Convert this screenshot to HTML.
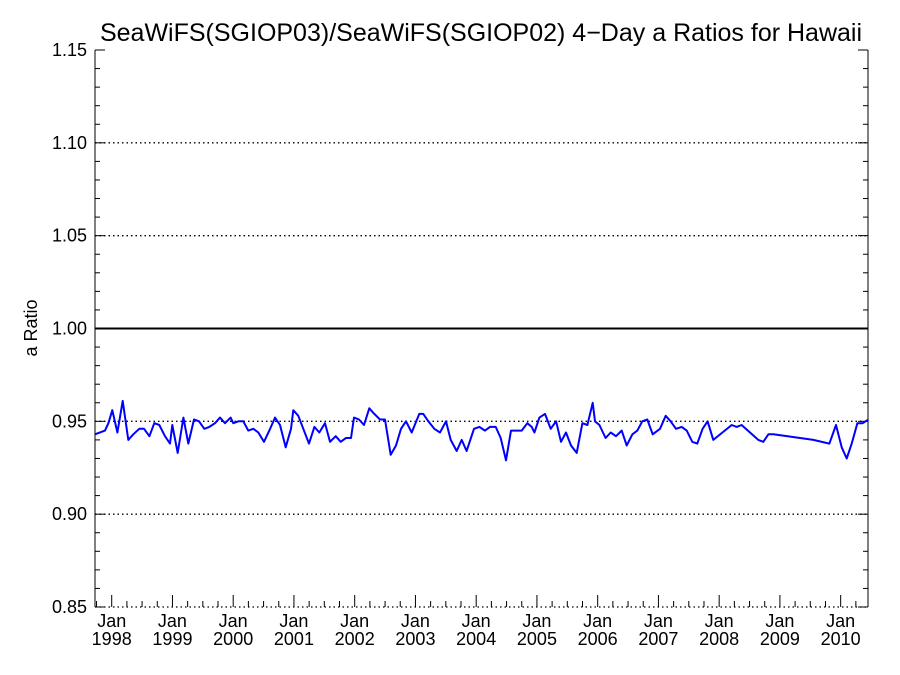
<!DOCTYPE html>
<html><head><meta charset="utf-8"><style>
body{margin:0;background:#fff;}
svg{display:block;font-family:"Liberation Sans",sans-serif;}
</style></head><body>
<svg id="chart" width="900" height="675" viewBox="0 0 900 675">
<text x="481" y="41" font-size="25" text-anchor="middle">SeaWiFS(SGIOP03)/SeaWiFS(SGIOP02) 4−Day a Ratios for Hawaii</text>
<text transform="translate(37,328) rotate(-90)" font-size="18" text-anchor="middle">a Ratio</text>
<g id="grid"></g><g id="axes"></g><g id="series"></g>
</svg>
<script>
const dates=[1997.725,1997.89,1997.945,1998.010,1998.093,1998.181,1998.274,1998.356,1998.455,1998.532,1998.620,1998.702,1998.784,1998.878,1998.960,1998.998,1999.086,1999.180,1999.261,1999.355,1999.437,1999.525,1999.607,1999.700,1999.783,1999.865,1999.958,2000.002,2000.085,2000.167,2000.249,2000.332,2000.414,2000.507,2000.595,2000.688,2000.770,2000.864,2000.952,2000.990,2001.072,2001.154,2001.248,2001.336,2001.418,2001.511,2001.593,2001.687,2001.769,2001.857,2001.939,2001.989,2002.071,2002.153,2002.241,2002.323,2002.417,2002.499,2002.592,2002.680,2002.762,2002.845,2002.938,2003.064,2003.130,2003.212,2003.311,2003.404,2003.503,2003.580,2003.679,2003.761,2003.843,2003.964,2004.052,2004.145,2004.227,2004.321,2004.403,2004.491,2004.573,2004.667,2004.749,2004.842,2004.914,2004.958,2005.040,2005.133,2005.227,2005.315,2005.397,2005.479,2005.561,2005.655,2005.748,2005.830,2005.918,2005.956,2006.028,2006.131,2006.214,2006.302,2006.395,2006.477,2006.571,2006.653,2006.735,2006.817,2006.905,2007.026,2007.119,2007.201,2007.289,2007.383,2007.465,2007.558,2007.640,2007.728,2007.810,2007.904,2008.206,2008.288,2008.370,2008.644,2008.727,2008.810,2008.892,2009.551,2009.814,2009.924,2010.017,2010.100,2010.182,2010.275,2010.363,2010.456];
const ratios=[0.943,0.945,0.949,0.956,0.944,0.961,0.940,0.943,0.946,0.946,0.942,0.949,0.948,0.942,0.938,0.948,0.933,0.952,0.938,0.951,0.950,0.946,0.947,0.949,0.952,0.949,0.952,0.949,0.950,0.950,0.945,0.946,0.944,0.939,0.945,0.952,0.948,0.936,0.946,0.956,0.953,0.946,0.938,0.947,0.944,0.949,0.939,0.942,0.939,0.941,0.941,0.952,0.951,0.948,0.957,0.954,0.951,0.951,0.932,0.937,0.946,0.950,0.944,0.954,0.954,0.950,0.946,0.944,0.950,0.940,0.934,0.940,0.934,0.946,0.947,0.945,0.947,0.947,0.941,0.929,0.945,0.945,0.945,0.949,0.947,0.944,0.952,0.954,0.946,0.950,0.939,0.944,0.937,0.933,0.949,0.948,0.960,0.950,0.948,0.941,0.944,0.942,0.945,0.937,0.943,0.945,0.950,0.951,0.943,0.946,0.953,0.950,0.946,0.947,0.945,0.939,0.938,0.946,0.950,0.940,0.948,0.947,0.948,0.940,0.939,0.943,0.943,0.940,0.938,0.948,0.936,0.930,0.938,0.949,0.949,0.951];
const yTicks=[0.85,0.90,0.95,1.00,1.05,1.10,1.15];
const yTickLabels=["0.85","0.90","0.95","1.00","1.05","1.10","1.15"];
const xYears=[1998,1999,2000,2001,2002,2003,2004,2005,2006,2007,2008,2009,2010];
const L=95,R=868,T=50,B=607,X0=1997.725,X1=2010.45,Y0=0.85,Y1=1.15;
const NS="http://www.w3.org/2000/svg";
function sx(v){return L+(v-X0)/(X1-X0)*(R-L);}
function sy(v){return B-(v-Y0)/(Y1-Y0)*(B-T);}
function mk(tag,attrs,parent){const e=document.createElementNS(NS,tag);for(const k in attrs)e.setAttribute(k,attrs[k]);document.getElementById(parent).appendChild(e);return e;}
yTicks.forEach((v,i)=>{
  if(i===0||i===yTicks.length-1)return;
  const solid=Math.abs(v-1)<1e-9;
  const g=mk('line',{x1:L,x2:R,y1:sy(v),y2:sy(v),stroke:'#000','stroke-width':solid?2:1.3,'stroke-dasharray':solid?'none':'1.5,3'},'grid');
  
  
});
let a=mk('line',{x1:L,x2:L,y1:T,y2:B,stroke:'#000','stroke-width':1},'axes');


a=mk('line',{x1:R,x2:R,y1:T,y2:B,stroke:'#000','stroke-width':1},'axes');


a=mk('line',{x1:L,x2:R,y1:B,y2:B,stroke:'#000','stroke-width':1.3,'stroke-dasharray':'1.5,3'},'axes');


for(let k=0;k<=30;k++){
  const v=Y0+k*0.01,y=sy(v),major=k%5===0,len=major?10:5;
  mk('line',{x1:L,x2:L+len,y1:y,y2:y,stroke:'#000'},'axes');
  mk('line',{x1:R,x2:R-len,y1:y,y2:y,stroke:'#000'},'axes');
}
yTicks.forEach((v,i)=>{
  const t=mk('text',{x:L-8,y:sy(v)+6,'font-size':18,'text-anchor':'end'},'axes');
  t.textContent=yTickLabels[i];
  
  
});
for(let y=1997.75;y<=X1;y+=0.25){
  const x=sx(y),major=Math.abs(y-Math.round(y))<1e-6;
  mk('line',{x1:x,x2:x,y1:B,y2:B-(major?12:6),stroke:'#000'},'axes');
}
xYears.forEach(yr=>{
  const x=sx(yr);
  let t=mk('text',{x:x,y:627,'font-size':18,'text-anchor':'middle'},'axes');
  t.textContent='Jan';
  
  
  t=mk('text',{x:x,y:645,'font-size':18,'text-anchor':'middle'},'axes');
  t.textContent=String(yr);
  
  
});
const pts=dates.map((d,i)=>sx(d).toFixed(1)+','+sy(ratios[i]).toFixed(1)).join(' ');
const pl=mk('polyline',{points:pts,fill:'none',stroke:'#0000ff','stroke-width':2,'stroke-linejoin':'round'},'series');


</script>
</body></html>
